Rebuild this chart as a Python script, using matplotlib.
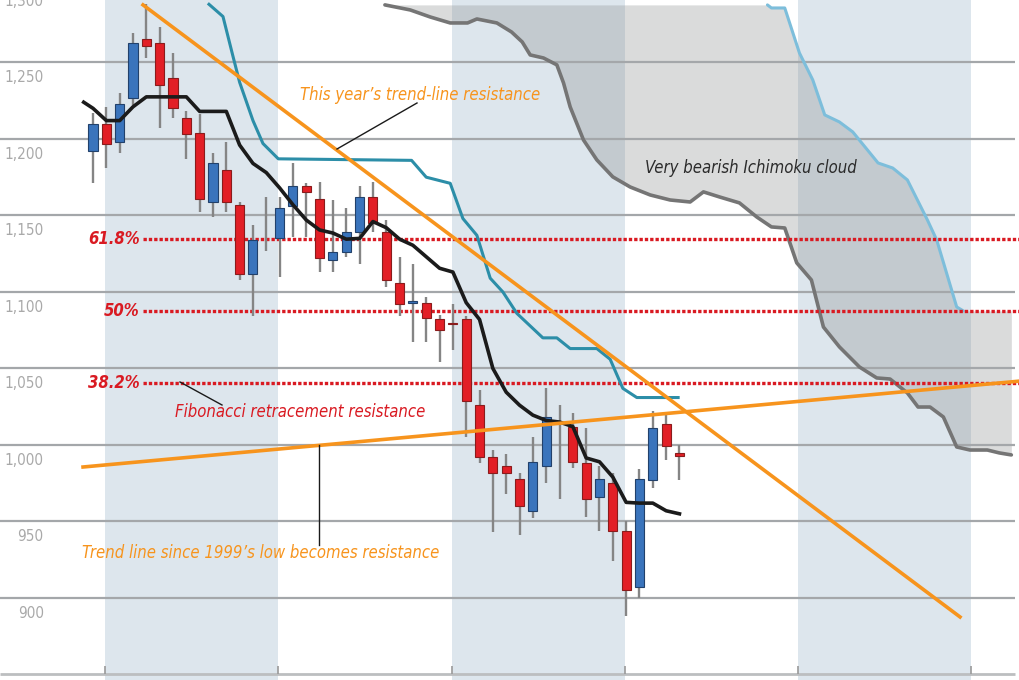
import matplotlib
matplotlib.use('Agg')
import matplotlib.pyplot as plt
import numpy as np

plt.rcParams['font.family'] = ['DejaVu Sans']
plt.rcParams['font.stretch'] = 'condensed'

# weekly candles, index = week number
opens = [1192, 1210, 1198, 1227, 1265, 1263, 1240, 1214, 1204, 1159, 1180, 1157, 1112, 1145,
         1135, 1156, 1169, 1161, 1121, 1126, 1139, 1162, 1139, 1106, 1093, 1093, 1082, 1080,
         1082, 1026, 992, 986, 978, 957, 986, 1015, 1012, 988, 966, 975, 944, 907, 977, 1014, 995]
highs = [1217, 1221, 1230, 1269, 1288, 1273, 1256, 1218, 1216, 1191, 1198, 1159, 1144, 1162,
         1162, 1184, 1171, 1172, 1160, 1155, 1169, 1172, 1147, 1123, 1118, 1097, 1085, 1092,
         1084, 1036, 997, 994, 982, 1005, 1037, 1026, 1021, 1011, 986, 982, 950, 984, 1022, 1021, 1000]
lows = [1171, 1181, 1191, 1222, 1253, 1207, 1214, 1187, 1152, 1149, 1152, 1108, 1084, 1127,
        1110, 1136, 1136, 1113, 1113, 1123, 1118, 1139, 1103, 1084, 1067, 1067, 1054, 1062,
        1005, 988, 943, 968, 941, 952, 975, 965, 985, 953, 944, 924, 888, 900, 972, 990, 977]
closes = [1210, 1197, 1223, 1263, 1261, 1235, 1220, 1203, 1161, 1184, 1159, 1112, 1134, 1145,
          1155, 1169, 1165, 1122, 1126, 1139, 1162, 1145, 1108, 1092, 1094, 1083, 1075, 1079,
          1029, 992, 982, 982, 960, 989, 1018, 1015, 989, 965, 978, 944, 905, 978, 1011, 999, 993]

# black line (one value per week, plus a lead-in point)
fast_lead = (-0.7, 1224)
fast_line = [1220, 1212, 1212, 1221, 1227.5, 1227.5, 1227.5, 1227.5, 1218, 1218, 1218, 1196,
             1184, 1178, 1168, 1157, 1147, 1140.5, 1138.5, 1134.5, 1135, 1146, 1142, 1134.5,
             1130.5, 1123, 1115.5, 1113, 1093, 1082, 1050, 1034.5, 1026, 1019.5, 1016, 1015,
             1012, 991.5, 989, 979, 962.5, 962, 962, 957, 955]

# teal line
slow_x = [8.7, 9.75, 10.5, 11, 12, 12.75, 13.9, 23.9, 25, 26.8, 27.75, 28.8, 29.8, 30.75,
          31.8, 33.75, 34.8, 35.8, 37.8, 38.8, 39.75, 40.8, 43.9]
slow_line = [1288, 1280, 1254, 1237, 1212, 1197, 1187, 1186, 1175, 1171, 1148, 1137, 1109,
             1100, 1086, 1070, 1070, 1063, 1063, 1056, 1037, 1031, 1031]

# Ichimoku cloud edges
cloud_low_x = [21.9, 23.8, 25.3, 26.8, 28.1, 28.8, 30.3, 31.4, 32.2, 32.8, 33.8, 34.8, 35.3,
               35.8, 36.8, 37.8, 39.0, 40.3, 41.8, 43.3, 44.8, 45.8, 47.0, 48.5, 49.8, 50.9,
               51.9, 52.8, 53.9, 54.8, 56.0, 57.5, 58.8, 59.8, 61.1, 61.9, 62.8, 63.8, 64.8,
               65.8, 67.1, 68.0, 68.9]
cloud_low = [1287.6, 1284.3, 1279.7, 1275.8, 1275.8, 1278.4, 1275.8, 1269.9, 1263.4, 1254.9,
             1252.9, 1248.4, 1236.6, 1220.9, 1199.3, 1186.3, 1175.2, 1168.6, 1163.4, 1160.1,
             1158.8, 1165.4, 1162.1, 1158.2, 1149, 1142.5, 1141.8, 1119, 1107.8, 1077.1,
             1064.1, 1051, 1043.8, 1043.1, 1034, 1024.8, 1024.8, 1018.3, 998.7, 996.7,
             996.7, 994.8, 993.5]
cloud_high_x = [50.6, 50.9, 51.9, 53.0, 54.0, 54.9, 56.0, 57.0, 58.9, 60.0, 61.1, 62.6, 63.3,
                64.8, 65.3]
cloud_high = [1287.6, 1285.6, 1285.6, 1256.2, 1238.6, 1215.7, 1211.1, 1204.6, 1184.3, 1181,
              1173.2, 1147.1, 1134, 1090.2, 1087.6]

trend_down_x = [3.75, 65.05]
trend_down = [1287.6, 887.6]
trend_up_x = [-0.75, 69.6]
trend_up = [985.6, 1041.8]

fib_levels = [1134.6, 1087.6, 1040.5]
fib_labels = ['61.8%', '50%', '38.2%']

grid_levels = [900, 950, 1000, 1050, 1100, 1150, 1200, 1250, 1300]
grid_labels = ['900', '950', '1,000', '1,050', '1,100', '1,150', '1,200', '1,250', '1,300']
quarter_edges = [0.9, 13.9, 26.9, 39.9, 52.9, 65.9]

ORANGE = '#f7941d'
RED = '#d91a22'
BLUE = '#3a74bc'
CANDLE_RED = '#e21f26'

fig = plt.figure(figsize=(10.2, 6.8), dpi=100)
ax = fig.add_axes([0, 0, 1, 1])
ax.set_xlim(-6.98, 69.55)
ax.set_ylim(846.4, 1290.8)
ax.axis('off')

# quarter bands
for a, b in zip(quarter_edges[0::2], quarter_edges[1::2]):
    ax.axvspan(a, b, color='#dde6ed', zorder=0, lw=0)

# cloud
xs = np.linspace(cloud_low_x[0], cloud_low_x[-1], 500)
lo = np.interp(xs, cloud_low_x, cloud_low)
hi = np.interp(xs, cloud_high_x, cloud_high)
ax.fill_between(xs, lo, hi, color='#8e9092', alpha=0.32, lw=0, zorder=1)
ax.plot(cloud_low_x, cloud_low, color='#757575', lw=2.6, zorder=3, solid_capstyle='round')
ax.plot(cloud_high_x, cloud_high, color='#7dbedb', lw=2.2, zorder=3, solid_capstyle='round')

# grid + axis
for lev, lab in zip(grid_levels, grid_labels):
    ax.hlines(lev, -7, 69.2, color='#a4a7aa', lw=1.6, zorder=2)
    ax.text(-3.7, lev - 10, lab, ha='right', va='center', fontsize=11, color='#a9a9a9')
ax.hlines(850.3, -7, 69.2, color='#bcbec0', lw=2, zorder=2)
ax.vlines(quarter_edges, 850.3, 855.5, color='#9a9a9a', lw=1.2, zorder=2)

# fibonacci levels
for lev, lab in zip(fib_levels, fib_labels):
    ax.hlines(lev, 3.75, 69.6, color=RED, lw=2.4, linestyles=(0, (1, 0.6)), zorder=3)
    ax.text(3.5, lev, lab, ha='right', va='center', fontsize=12, color=RED,
            style='italic', fontweight='bold')

# candles
weeks = np.arange(len(opens))
ax.vlines(weeks, lows, highs, color='#858585', lw=1.7, zorder=4)
for w, o, c in zip(weeks, opens, closes):
    if o == c:
        continue
    up = c > o
    ax.bar(w, c - o, bottom=o, width=0.68,
           color=BLUE if up else CANDLE_RED,
           edgecolor='#22416b' if up else '#8a1c1c', lw=0.8, zorder=5)

# moving lines
ax.plot([fast_lead[0]] + list(weeks), [fast_lead[1]] + fast_line, color='#1b1b1b', lw=2.6,
        zorder=6, solid_joinstyle='round')
ax.plot(slow_x, slow_line, color='#2c8ea8', lw=2.2, zorder=6, solid_joinstyle='round')

# trend lines
ax.plot(trend_down_x, trend_down, color=ORANGE, lw=2.6, zorder=7)
ax.plot(trend_up_x, trend_up, color=ORANGE, lw=2.6, zorder=7)


def px(x, y):
    return x / 1020, 1 - y / 680


tr = ax.transAxes
ax.text(*px(300, 95), "This year\u2019s trend-line resistance", transform=tr, ha='left',
        va='center', fontsize=12, color=ORANGE, style='italic', zorder=8)
ax.plot(*zip(px(337, 149), px(417, 103)), transform=tr, color='#1a1a1a', lw=1, zorder=8)
ax.text(*px(645, 168), "Very bearish Ichimoku cloud", transform=tr, ha='left', va='center',
        fontsize=12, color='#2b2b2b', style='italic', zorder=8)
ax.text(*px(175, 412), "Fibonacci retracement resistance", transform=tr, ha='left',
        va='center', fontsize=12, color=RED, style='italic', zorder=8)
ax.plot(*zip(px(180, 382), px(222, 405)), transform=tr, color='#1a1a1a', lw=1, zorder=8)
ax.text(*px(82, 553), "Trend line since 1999\u2019s low becomes resistance", transform=tr,
        ha='left', va='center', fontsize=12, color=ORANGE, style='italic', zorder=8)
ax.plot(*zip(px(319, 445), px(319, 545)), transform=tr, color='#1a1a1a', lw=1, zorder=8)

fig.savefig('out.png', dpi=100)
